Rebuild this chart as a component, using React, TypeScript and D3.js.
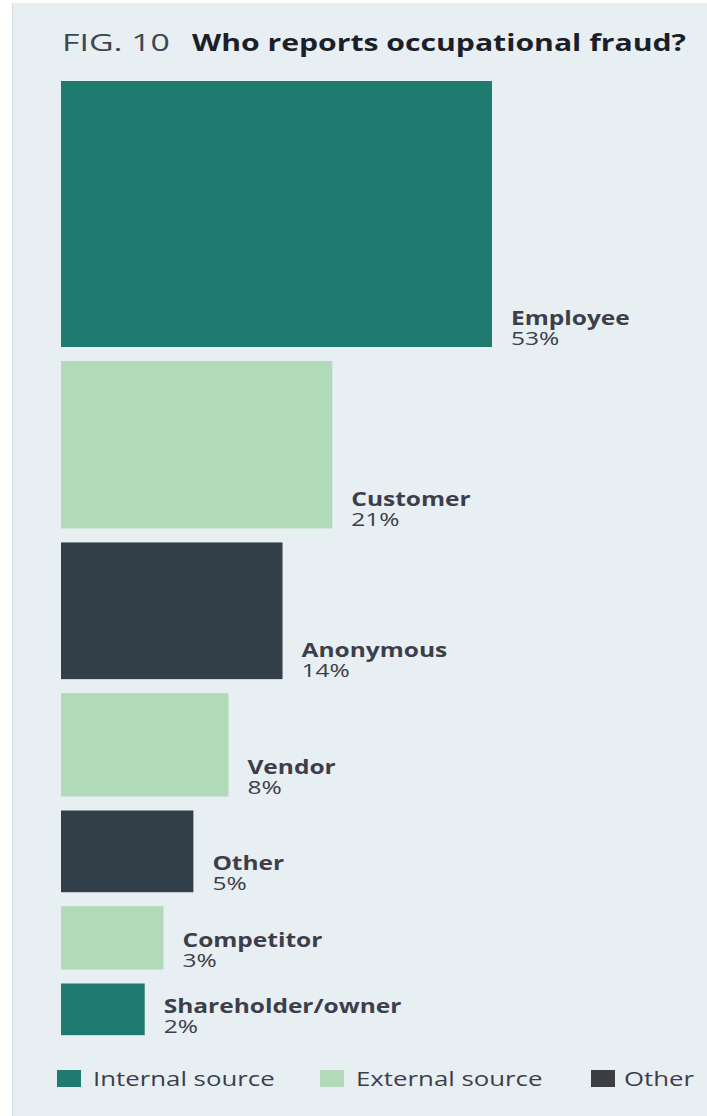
// Fig. 10 — Who reports occupational fraud?
// Rectangles sized by area (sqrt scale on both sides), stacked top to bottom.

import * as d3 from "d3";

const categories = ["Employee", "Customer", "Anonymous", "Vendor", "Other", "Competitor", "Shareholder/owner"];
const values = [53, 21, 14, 8, 5, 3, 2];
const sourceTypes = ["internal", "external", "other", "external", "other", "external", "internal"];

const legendKeys = ["internal", "external", "otherKey"];
const legendLabels = ["Internal source", "External source", "Other"];

const W = 707;
const H = 1116;
const BAR_X = 61;
const TOP = 81;
const GAP = 14;
const FONT = "'Open Sans', 'Liberation Sans', sans-serif";
const STRETCH = 1.29; // the source artwork is stretched sideways

const COLORS: Record<string, string> = {
  internal: "#1f7a70",
  external: "#b1dab8",
  other: "#333f48",
  otherKey: "#3d3e40",
};

export default function App() {
  const wScale = d3.scaleSqrt().domain([0, 53]).range([0, 431]);
  const hScale = d3.scaleSqrt().domain([0, 53]).range([0, 266]);

  let y = TOP;
  const bars = values.map((v, i) => {
    const h = hScale(v);
    const b = { name: categories[i], v, type: sourceTypes[i], y, w: wScale(v), h };
    y += h + GAP;
    return b;
  });

  const legendX = d3.scaleOrdinal<string, number>().domain(legendKeys).range([57, 320, 591]);
  const legendTextDx = [36, 36, 33];

  return (
    <svg
      width={W}
      height={H}
      style={{ position: "absolute", left: 0, top: 0, fontFamily: FONT }}
    >
      <rect x={0} y={0} width={W} height={H} fill="#ffffff" />
      <rect x={12} y={3} width={W - 12} height={H - 3} fill="#e8eff3" />
      <line x1={12.5} y1={3} x2={12.5} y2={H} stroke="#d6dcdf" strokeWidth={1} />

      <text
        transform={`translate(62,51) scale(${STRETCH},1)`}
        fontSize={23}
        fill="#3b4752"
        textLength={108 / STRETCH}
        lengthAdjust="spacingAndGlyphs"
      >
        FIG. 10
      </text>
      <text
        transform={`translate(192,51) scale(${STRETCH},1)`}
        fontSize={23}
        fontWeight="bold"
        fill="#1c1f2a"
        textLength={494 / STRETCH}
        lengthAdjust="spacingAndGlyphs"
      >
        Who reports occupational fraud?
      </text>

      {bars.map((b) => (
        <g key={b.name}>
          <rect x={BAR_X} y={b.y} width={b.w} height={b.h} fill={COLORS[b.type]} />
          <text
            transform={`translate(${BAR_X + b.w + 19},${b.y + b.h - 22}) scale(${STRETCH},1)`}
            fontSize={19}
            fontWeight="bold"
            fill="#3d3e4a"
          >
            {b.name}
          </text>
          <text
            transform={`translate(${BAR_X + b.w + 19},${b.y + b.h - 2}) scale(${STRETCH},1)`}
            fontSize={19}
            fill="#3d3e4a"
          >
            {b.v}%
          </text>
        </g>
      ))}

      {legendKeys.map((k, i) => (
        <g key={k} transform={`translate(${legendX(k)},1070)`}>
          <rect x={0} y={0} width={24} height={17} fill={COLORS[k]} />
          <text transform={`translate(${legendTextDx[i]},15.5) scale(${STRETCH},1)`} fontSize={20} fill="#3d3e4a">
            {legendLabels[i]}
          </text>
        </g>
      ))}
    </svg>
  );
}
